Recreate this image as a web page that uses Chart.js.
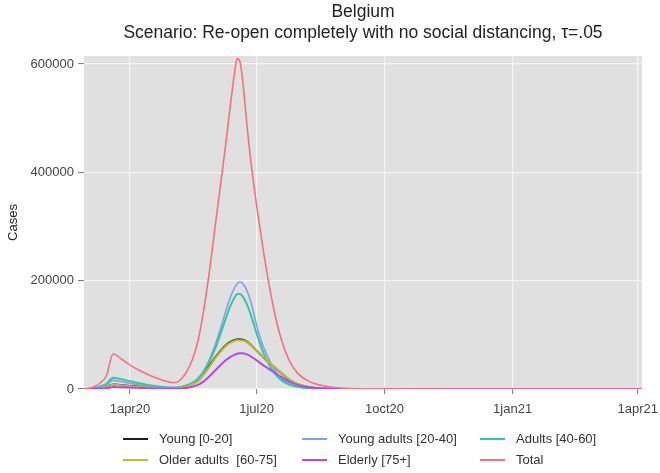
<!DOCTYPE html>
<html lang="en">
<head>
  <meta charset="UTF-8">
  <title>Belgium - cases by age group</title>
  <style>
    body {
      margin: 0;
      background: #fff;
      font-family: "Liberation Sans", Arial, sans-serif;
    }
    .wrap {
      position: relative;
      width: 660px;
      height: 473px;
    }
    /* legend laid out in three fixed columns */
    .legend {
      position: absolute;
      left: 0;
      top: 0;
      width: 660px;
      height: 473px;
      pointer-events: none;
    }
    .item {
      position: absolute;
      height: 16px;
      font-size: 13px;
      color: #333;
      white-space: pre;
      line-height: 16px;
    }
    .item span.swatch {
      position: absolute;
      left: 0;
      top: 7px;
      width: 25px;
      height: 2px;
    }
    .item span.lbl {
      position: absolute;
      left: 36px;
      top: 0;
    }
  </style>
</head>
<body>
  <div class="wrap">
    <canvas id="chart" width="660" height="473"></canvas>
    <div class="legend" id="legend"></div>
  </div>

  <script src="https://cdn.jsdelivr.net/npm/chart.js"></script>
  <script>
    // days counted from 1 Jan 2020 (day 91 = 1apr20)
    const days = [58, 62, 66, 70, 74, 79, 84, 90, 96, 102, 108, 114, 120, 124, 128, 132, 136, 140, 144, 148,
                  152, 156, 160, 163, 166, 168, 170, 172, 175, 178, 182, 186, 190, 195, 200, 206, 212, 220, 230, 245,
                  270, 320, 400, 459];

    const young = [0, 200, 700, 1700, 3500, 8500, 7500, 6000, 4500, 3300, 2300, 1500, 1000, 1300, 2700, 5500, 9200, 15600, 27600, 42300,
                   57000, 70000, 81000, 86500, 90000, 91500, 92000, 91000, 87400, 81000, 70800, 60700, 51500, 40000, 29000, 16500, 8500, 3200, 900, 100,
                   0, 0, 0, 0];
    const youngAdults = [0, 400, 1300, 3500, 7000, 16000, 14000, 11000, 8500, 6000, 4000, 2800, 2000, 2200, 3800, 6900, 11900, 19800, 33700, 53500,
                   79200, 111000, 144500, 168000, 186000, 194000, 198000, 195000, 182000, 160000, 118000, 84000, 60000, 35000, 19500, 9500, 4500, 1500, 500, 80,
                   0, 0, 0, 0];
    const adults = [0, 600, 2000, 5000, 9500, 21000, 18500, 15000, 11500, 8500, 6000, 4000, 2800, 2800, 4200, 7000, 11500, 19000, 31500, 50000,
                   73000, 101000, 131000, 152000, 168000, 175000, 176000, 171000, 157000, 136000, 103000, 73000, 50000, 29000, 16000, 7800, 3700, 1300, 400, 60,
                   0, 0, 0, 0];
    const olderAdults = [0, 200, 650, 1600, 3300, 8000, 7000, 5600, 4200, 3100, 2100, 1400, 900, 1100, 2300, 4800, 8300, 14500, 26000, 40500,
                   55500, 68500, 79500, 85000, 88500, 89800, 90000, 89500, 86500, 80500, 71000, 61000, 52000, 40500, 29500, 17000, 8800, 3400, 1000, 100,
                   0, 0, 0, 0];
    const elderly = [0, 100, 300, 700, 1400, 3500, 3200, 2700, 2100, 1600, 1100, 700, 500, 600, 1100, 2300, 4200, 7500, 14000, 23000,
                   33500, 44000, 53500, 59000, 63000, 65000, 66000, 65800, 64000, 60000, 53000, 45500, 38500, 30000, 22000, 13000, 7000, 2800, 800, 80,
                   0, 0, 0, 0];
    const total = [0, 1500, 5000, 12000, 24000, 65000, 57000, 46000, 37000, 29000, 22000, 16500, 12500, 12000, 19000, 33000, 55000, 90000, 145000, 215000,
                   295000, 375000, 455000, 520000, 580000, 610000, 605000, 570000, 490000, 418000, 340000, 270000, 207000, 140000, 90000, 50000, 28000, 14000, 6000, 1500,
                   200, 0, 0, 0];

    const seriesNames = ['Young [0-20]', 'Young adults [20-40]', 'Adults [40-60]', 'Older adults  [60-75]', 'Elderly [75+]', 'Total'];
    const seriesColors = ['#1c1c1c', '#7f9ff0', '#33c7a6', '#c2bd2c', '#b347f5', '#f7707e'];
    const seriesWidths = [2, 1.6, 2, 2, 2, 1.6];
    const seriesData = [young, youngAdults, adults, olderAdults, elderly, total];

    const xTickDays = [91, 182, 274, 366, 456];
    const xTickLabels = ['1apr20', '1jul20', '1oct20', '1jan21', '1apr21'];
    const yTicks = [0, 200000, 400000, 600000];

    // gray plot region behind the grid
    const plotBackground = {
      id: 'plotBackground',
      beforeDraw(chart) {
        const { ctx, chartArea } = chart;
        ctx.save();
        ctx.fillStyle = '#e0e0e0';
        ctx.fillRect(chartArea.left, chartArea.top, chartArea.right - chartArea.left, chartArea.bottom - chartArea.top);
        ctx.restore();
      }
    };

    const datasets = seriesData.map((vals, i) => ({
      label: seriesNames[i],
      data: days.map((d, j) => ({ x: d, y: vals[j] })),
      borderColor: seriesColors[i],
      borderWidth: seriesWidths[i],
      pointRadius: 0,
      fill: false,
      cubicInterpolationMode: 'monotone',
      order: seriesData.length - i
    }));

    const ctx = document.getElementById('chart').getContext('2d');
    new Chart(ctx, {
      type: 'line',
      data: { datasets },
      plugins: [plotBackground],
      options: {
        responsive: false,
        animation: false,
        layout: { padding: { left: 6, right: 18, top: 0, bottom: 54 } },
        plugins: {
          legend: { display: false },
          tooltip: { enabled: false },
          title: {
            display: true,
            text: 'Belgium',
            fullSize: false,
            color: '#222',
            font: { family: 'Liberation Sans', size: 17.5, weight: 'normal', lineHeight: 1.2 },
            padding: { top: 2, bottom: 0 }
          },
          subtitle: {
            display: true,
            text: 'Scenario: Re-open completely with no social distancing, \u03c4=.05',
            fullSize: false,
            color: '#222',
            font: { family: 'Liberation Sans', size: 17.5, weight: 'normal', lineHeight: 1.2 },
            padding: { top: 0, bottom: 12 }
          }
        },
        scales: {
          x: {
            type: 'linear',
            min: 58,
            max: 459,
            afterBuildTicks(scale) {
              scale.ticks = xTickDays.map(v => ({ value: v }));
            },
            afterFit(scale) {
              scale.height = 30;
              scale.paddingLeft = 0;
              scale.paddingRight = 0;
            },
            ticks: {
              color: '#444',
              font: { family: 'Liberation Sans', size: 13 },
              padding: 8,
              maxRotation: 0,
              autoSkip: false,
              callback: (v) => xTickLabels[xTickDays.indexOf(v)]
            },
            grid: { color: '#f4f4f4', lineWidth: 1.2, tickColor: '#777', tickLength: 5, tickWidth: 1 },
            border: { display: false }
          },
          y: {
            min: 0,
            max: 614800,
            afterBuildTicks(scale) {
              scale.ticks = yTicks.map(v => ({ value: v }));
            },
            afterFit(scale) {
              scale.width = 78;
            },
            title: {
              display: true,
              text: 'Cases',
              color: '#222',
              font: { family: 'Liberation Sans', size: 13 },
              padding: { top: 0, bottom: 4 }
            },
            ticks: {
              color: '#444',
              font: { family: 'Liberation Sans', size: 13 },
              padding: 4,
              callback: (v) => String(v)
            },
            grid: { color: '#f4f4f4', lineWidth: 1.2, tickColor: '#777', tickLength: 6, tickWidth: 1 },
            border: { display: false }
          }
        }
      }
    });

    // legend: three columns, two rows
    const legendCols = [123, 302, 480];
    const legendRows = [431, 452];
    const legendBox = document.getElementById('legend');
    seriesNames.forEach((name, i) => {
      const item = document.createElement('div');
      item.className = 'item';
      item.style.left = legendCols[i % 3] + 'px';
      item.style.top = legendRows[Math.floor(i / 3)] + 'px';
      const sw = document.createElement('span');
      sw.className = 'swatch';
      sw.style.background = seriesColors[i];
      const lbl = document.createElement('span');
      lbl.className = 'lbl';
      lbl.textContent = name;
      item.appendChild(sw);
      item.appendChild(lbl);
      legendBox.appendChild(item);
    });
  </script>
</body>
</html>
